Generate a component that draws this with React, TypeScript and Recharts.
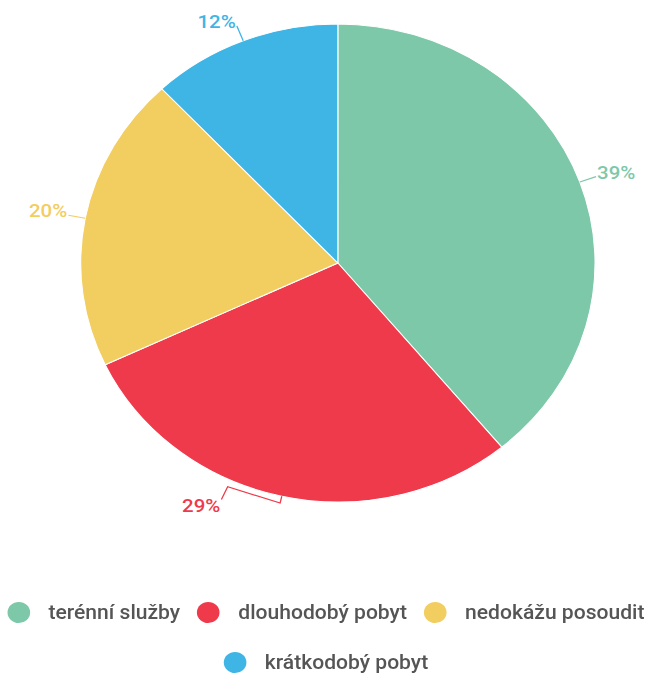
import React from 'react';
import { PieChart, Pie, Cell, Legend } from 'recharts';

const categories = ['terénní služby', 'dlouhodobý pobyt', 'nedokážu posoudit', 'krátkodobý pobyt'];
const shares = [39, 29, 20, 12];

const COLORS = ['#7DC8A9', '#EE3A4B', '#F2CD60', '#3FB5E5'];
// angular shift (degrees, clockwise) of a label to avoid overlap, by slice index
const LABEL_SHIFT: Record<number, number> = { 1: 12 };

const data = categories.map((name, i) => ({ name, value: shares[i] }));

const RAD = Math.PI / 180;
const W = 606;
const H = 675;
const SX = 1.076;

const renderLabel = (props: any) => {
  const { cx, cy, midAngle, outerRadius, index, value } = props;
  const color = COLORS[index % COLORS.length];
  const pt = (r: number, a: number) => [cx + r * Math.cos(-a * RAD), cy + r * Math.sin(-a * RAD)];
  const shift = LABEL_SHIFT[index] || 0;
  let pts: number[][];
  if (shift) {
    const a2 = midAngle - shift;
    pts = [pt(outerRadius, midAngle), pt(outerRadius + 7, midAngle), pt(outerRadius + 7, a2), pt(outerRadius + 21, a2)];
  } else {
    pts = [pt(outerRadius, midAngle), pt(outerRadius + 16, midAngle)];
  }
  const end = pts[pts.length - 1];
  const right = end[0] > cx;
  const tx = end[0] + (right ? 1 : -1);
  const ty = end[1] + (end[1] < cy ? -4 : 6);
  return (
    <g>
      <polyline points={pts.map((p) => p.join(',')).join(' ')} stroke={color} strokeWidth={1.2} fill="none" />
      <text x={tx} y={ty} textAnchor={right ? 'start' : 'end'} dominantBaseline="central" fill={color} fontSize={19} fontWeight={500}>
        {value}%
      </text>
    </g>
  );
};

const renderLegend = () => (
  <div style={{ display: 'flex', flexWrap: 'wrap', justifyContent: 'center', rowGap: 18, columnGap: 16, width: W }}>
    {categories.map((name, i) => (
      <div key={name} style={{ display: 'flex', alignItems: 'center', height: 32 }}>
        <span style={{ display: 'inline-block', width: 21, height: 21, borderRadius: '50%', background: COLORS[i % COLORS.length], marginRight: 17 }} />
        <span style={{ fontSize: 19.6, color: '#555', fontWeight: 500, whiteSpace: 'nowrap' }}>{name}</span>
      </div>
    ))}
  </div>
);

export default function App() {
  return (
    <div style={{ position: 'absolute', left: 0, top: 0, width: W, height: H, transform: `scaleX(${SX})`, transformOrigin: '0 0', fontFamily: 'Roboto, sans-serif', background: '#fff' }}>
      <PieChart width={W} height={H} margin={{ top: 0, right: 0, bottom: 0, left: 0 }}>
        <Pie
          data={data}
          dataKey="value"
          nameKey="name"
          cx={314}
          cy={263}
          outerRadius={239}
          startAngle={90}
          endAngle={-270}
          stroke="#fff"
          strokeWidth={1}
          label={renderLabel}
          labelLine={false}
          isAnimationActive={false}
        >
          {data.map((d, i) => (
            <Cell key={d.name} fill={COLORS[i % COLORS.length]} />
          ))}
        </Pie>
        <Legend content={renderLegend} wrapperStyle={{ top: 596, left: 0, width: W }} />
      </PieChart>
    </div>
  );
}
